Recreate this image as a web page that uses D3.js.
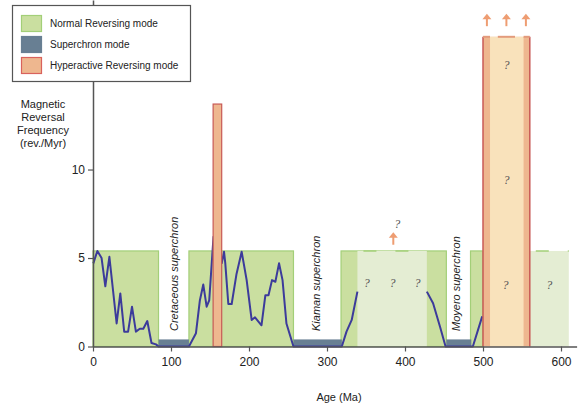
<!DOCTYPE html>
<html>
<head>
<meta charset="utf-8">
<script src="https://cdn.jsdelivr.net/npm/d3@7"></script>
<style>
  body { margin: 0; background: #fff; }
  svg { font-family: "Liberation Sans", Arial, sans-serif; }
</style>
</head>
<body>
<svg id="chart" width="582" height="408"></svg>
<script>
// Mode intervals (Ma)
const normalModes = [[0, 84], [123, 257], [318, 453], [484, 500]];
const normalUncertain = [[339, 428], [560, 610]];
const superchrons = [[84, 123], [257, 319], [453, 485]];
const superchronNames = ['Cretaceous superchron', 'Kiaman superchron', 'Moyero superchron'];
const superchronLabelAt = [104, 286, 466];
const hyperactive = [[154, 165, 13.7]];
const hyperUncertain = [500, 560, 17.5];
const hyperUncertainCore = [509, 552];
const normalLevel = 5.4;
const superLevel = 0.4;

// Reversal frequency curve (age, rev/Myr)
const curveYoung = [
  [0.4, 4.7], [5.6, 5.4], [11, 5.0], [15.8, 3.4], [21, 5.07], [30.3, 1.3], [35, 3.0],
  [40, 0.84], [45, 0.84], [50, 2.25], [55, 0.84], [60, 1.0], [64.5, 1.0], [69.6, 1.44],
  [75, 0.2], [80.8, 0.12], [84, 0], [123, 0], [132, 0.75], [137, 2.6], [141.4, 3.5],
  [145.7, 2.25], [149, 2.6], [154.5, 6.2], [160, 6.0], [165, 4.7], [168, 5.35], [169.6, 4.7],
  [173.5, 2.4], [177.8, 2.4], [184, 4.1], [190.6, 5.35], [197, 3.75], [203.4, 1.5],
  [207.7, 1.65], [216, 1.2], [221, 2.9], [225, 2.9], [229.5, 3.75], [233.8, 3.66],
  [238.5, 4.7], [243, 3.75], [248, 1.3], [257, 0], [319, 0], [325, 0.84], [331.7, 1.5],
  [339, 3.1]
];
const curveOld = [[428, 3.1], [436, 2.44], [445, 1.1], [452, 0], [487, 0], [499, 1.7]];

// Question marks and arrows for uncertain intervals
const questionMarks = [[351, 3.6], [384, 3.6], [416, 3.6], [390, 6.9], [529, 3.5], [530, 9.4], [530, 15.9], [585, 3.5]];
const arrowsAt = [[385, 5.75], [505, 18.1], [530, 18.1], [555, 18.1]];

const xTicks = [0, 100, 200, 300, 400, 500, 600];
const yTicks = [0, 5, 10];

const C = {
  green: '#cadfa0', greenStroke: '#a3cf78', greenLight: '#e4edd3',
  slate: '#687f93', hyper: '#eeb78f', hyperStroke: '#c85a56', hyperPale: '#f9e2bb',
  arrow: '#ee9d72', line: '#3c3b9b', axis: '#555'
};

const svg = d3.select('#chart');
const x = d3.scaleLinear().domain([0, 620]).range([93, 576.6]);
const y = d3.scaleLinear().domain([0, 19.58]).range([346.5, 0]);

const g = svg.append('g');

// normal reversing boxes
g.selectAll('.normal').data(normalModes).enter().append('rect')
  .attr('x', d => x(d[0])).attr('width', d => x(d[1]) - x(d[0]))
  .attr('y', y(normalLevel)).attr('height', y(0) - y(normalLevel))
  .attr('fill', C.green).attr('stroke', C.greenStroke).attr('stroke-width', 1.2);

// uncertain (light) normal parts
g.selectAll('.normal-u').data(normalUncertain).enter().append('rect')
  .attr('x', d => x(d[0])).attr('width', d => x(d[1]) - x(d[0]))
  .attr('y', y(normalLevel)).attr('height', y(0) - y(normalLevel))
  .attr('fill', C.greenLight).attr('stroke', 'none');
g.selectAll('.normal-u-top').data(normalUncertain).enter().append('line')
  .attr('x1', d => x(d[0]) + 6).attr('x2', d => x(d[1]))
  .attr('y1', y(normalLevel)).attr('y2', y(normalLevel))
  .attr('stroke', C.greenStroke).attr('stroke-width', 1.5)
  .attr('stroke-dasharray', '13,19');

// superchron bars
g.selectAll('.super').data(superchrons).enter().append('rect')
  .attr('x', d => x(d[0])).attr('width', d => x(d[1]) - x(d[0]))
  .attr('y', y(superLevel)).attr('height', y(0) - y(superLevel))
  .attr('fill', C.slate);

// frequency curve
const line = d3.line().x(d => x(d[0])).y(d => y(d[1]));
[curveYoung, curveOld].forEach(c => {
  g.append('path').attr('d', line(c)).attr('fill', 'none')
    .attr('stroke', C.line).attr('stroke-width', 2).attr('stroke-linejoin', 'round');
});

// hyperactive bars
g.selectAll('.hyper').data(hyperactive).enter().append('rect')
  .attr('x', d => x(d[0])).attr('width', d => x(d[1]) - x(d[0]))
  .attr('y', d => y(d[2])).attr('height', d => y(0) - y(d[2]))
  .attr('fill', C.hyper).attr('stroke', C.hyperStroke).attr('stroke-width', 1.2);

const [h0, h1, hTop] = hyperUncertain;
g.append('rect').attr('x', x(h0)).attr('width', x(h1) - x(h0))
  .attr('y', y(hTop)).attr('height', y(0) - y(hTop)).attr('fill', C.hyper);
g.append('rect').attr('x', x(hyperUncertainCore[0]))
  .attr('width', x(hyperUncertainCore[1]) - x(hyperUncertainCore[0]))
  .attr('y', y(hTop)).attr('height', y(0) - y(hTop)).attr('fill', C.hyperPale);
[h0, h1].forEach(v => {
  g.append('line').attr('x1', x(v)).attr('x2', x(v)).attr('y1', y(hTop)).attr('y2', y(0))
    .attr('stroke', C.hyperStroke).attr('stroke-width', 1.5);
});
[[h0, hyperUncertainCore[0]], [hyperUncertainCore[1], h1], [519, 541]].forEach(s => {
  g.append('line').attr('x1', x(s[0])).attr('x2', x(s[1])).attr('y1', y(hTop)).attr('y2', y(hTop))
    .attr('stroke', '#e39b7c').attr('stroke-width', 2);
});

// arrows
arrowsAt.forEach(a => {
  const ax = x(a[0]), ay = y(a[1]);
  g.append('line').attr('x1', ax).attr('x2', ax).attr('y1', ay).attr('y2', ay - 8)
    .attr('stroke', C.arrow).attr('stroke-width', 2);
  g.append('path').attr('d', `M${ax - 4.5},${ay - 7}L${ax},${ay - 12.5}L${ax + 4.5},${ay - 7}Z`)
    .attr('fill', C.arrow);
});

// question marks
g.selectAll('.q').data(questionMarks).enter().append('text')
  .attr('x', d => x(d[0])).attr('y', d => y(d[1]) + 4)
  .attr('text-anchor', 'middle').attr('font-family', '"Liberation Serif", serif')
  .attr('font-style', 'italic').attr('font-size', 12).attr('fill', '#555').text('?');

// superchron labels
g.selectAll('.slab').data(superchronNames).enter().append('text')
  .attr('transform', (d, i) => `translate(${x(superchronLabelAt[i]) + 4},331) rotate(-90)`)
  .attr('font-style', 'italic').attr('font-size', 11).attr('fill', '#222').text(d => d);

// axes
const yAxis = svg.append('g').attr('transform', `translate(${x(0)},0)`)
  .call(d3.axisLeft(y).tickValues(yTicks).tickSize(5).tickSizeOuter(0));
const xAxis = svg.append('g').attr('transform', `translate(0,${y(0)})`)
  .call(d3.axisBottom(x).tickValues(xTicks).tickSize(5).tickSizeOuter(0));
[xAxis, yAxis].forEach(a => {
  a.select('.domain').attr('stroke', C.axis).attr('stroke-width', 1.5);
  a.selectAll('.tick line').attr('stroke', C.axis).attr('stroke-width', 1.2);
  a.selectAll('.tick text').attr('font-size', 12).attr('fill', '#222')
    .attr('font-family', '"Liberation Sans", Arial, sans-serif');
});
xAxis.selectAll('.tick text').attr('dy', '0.95em');

svg.append('text').attr('x', 339).attr('y', 401).attr('text-anchor', 'middle')
  .attr('font-size', 11).attr('fill', '#222').text('Age (Ma)');

const yTitle = ['Magnetic', 'Reversal', 'Frequency', '(rev./Myr)'];
svg.append('text').attr('text-anchor', 'middle').attr('font-size', 11).attr('fill', '#222')
  .selectAll('tspan').data(yTitle).enter().append('tspan')
  .attr('x', 43).attr('y', (d, i) => 108 + i * 13).text(d => d);

// legend
const legendItems = [
  ['Normal Reversing mode', C.green, C.greenStroke],
  ['Superchron mode', C.slate, C.slate],
  ['Hyperactive Reversing mode', C.hyper, '#d9625c']
];
const legend = svg.append('g');
legend.append('rect').attr('x', 12.5).attr('y', 5.5).attr('width', 178).attr('height', 76)
  .attr('fill', '#fff').attr('stroke', '#555').attr('stroke-width', 1.2);
const li = legend.selectAll('.li').data(legendItems).enter().append('g')
  .attr('transform', (d, i) => `translate(0,${15 + i * 21})`);
li.append('rect').attr('x', 21.5).attr('y', 0.5).attr('width', 20).attr('height', 16)
  .attr('fill', d => d[1]).attr('stroke', d => d[2]).attr('stroke-width', 1.2);
li.append('text').attr('x', 50).attr('y', 12).attr('font-size', 10).attr('fill', '#222').text(d => d[0]);
</script>
</body>
</html>
